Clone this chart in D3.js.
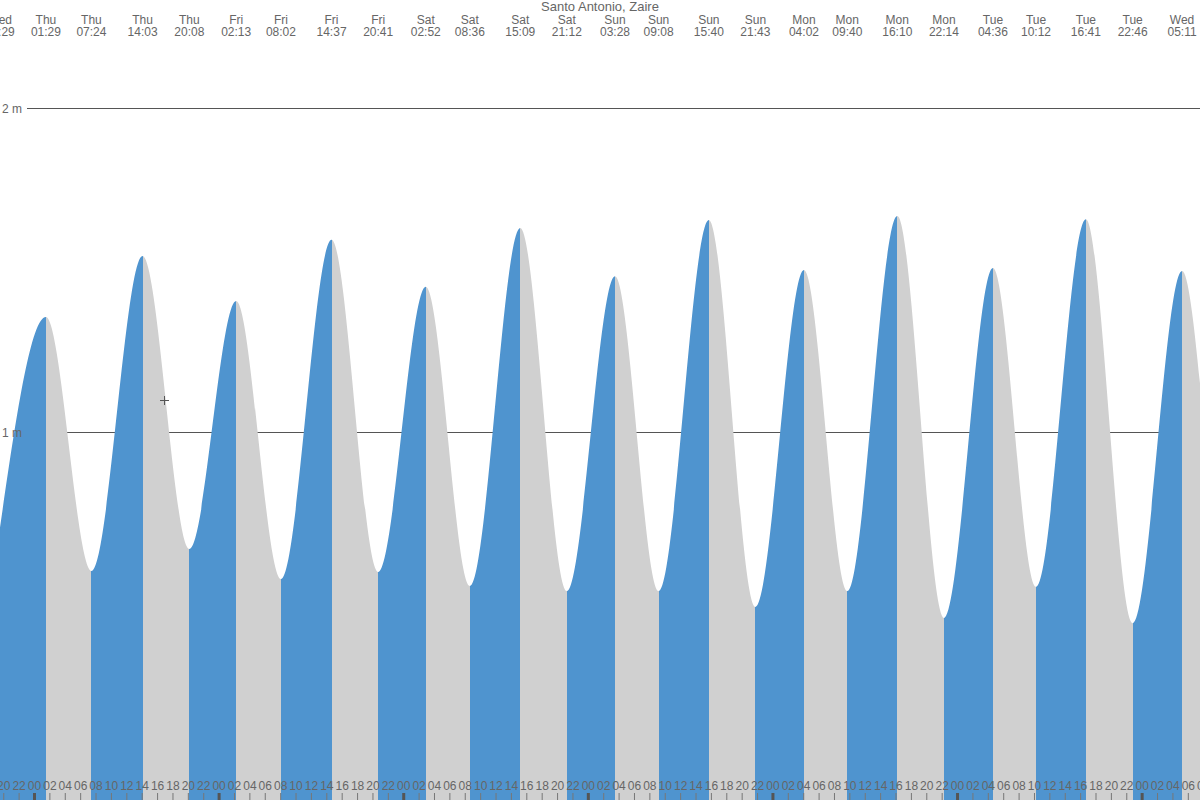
<!DOCTYPE html>
<html>
<head>
<meta charset="utf-8">
<script src="https://cdn.jsdelivr.net/npm/d3@7"></script>
<style>
  html, body { margin: 0; padding: 0; background: #fff; }
  svg { display: block; }
  text { font-family: "Liberation Sans", Arial, sans-serif; fill: #666; }
</style>
</head>
<body>
<svg id="chart" width="1200" height="800"></svg>
<script>
// ---- data ----
const title = "Santo Antonio, Zaire";
const extremeDays = ["Wed","Thu","Thu","Thu","Thu","Fri","Fri","Fri","Fri","Sat","Sat","Sat","Sat","Sun","Sun","Sun","Sun","Mon","Mon","Mon","Mon","Tue","Tue","Tue","Tue","Wed","Wed","Wed"];
const extremeTimes = ["19:29","01:29","07:24","14:03","20:08","02:13","08:02","14:37","20:41","02:52","08:36","15:09","21:12","03:28","09:08","15:40","21:43","04:02","09:40","16:10","22:14","04:36","10:12","16:41","22:46","05:11","11:00","17:15"];
const extremeLevels = [0.70,1.355,0.571,1.543,0.639,1.404,0.546,1.593,0.568,1.448,0.525,1.630,0.509,1.481,0.509,1.654,0.460,1.500,0.509,1.667,0.426,1.506,0.522,1.657,0.410,1.497,0.52,1.65];
const levelTicks = [1, 2];
const levelTickLabels = ["1 m", "2 m"];
const hourTicks = d3.range(-4, 153, 2); // hours since Thu 00:00

// ---- build extremes (hours since Thu 00:00) ----
let dayIdx = -1;
const extremes = extremeDays.map((d, i) => {
  if (i > 0 && d !== extremeDays[i - 1]) dayIdx++;
  const [hh, mm] = extremeTimes[i].split(":").map(Number);
  return { day: d, time: extremeTimes[i], h: dayIdx * 24 + hh + mm / 60, v: extremeLevels[i] };
});

const W = 1200, H = 800;
const svg = d3.select("#chart");
const x = d3.scaleLinear().domain([-4.485, 151.52]).range([0, W]);
const y = d3.scaleLinear().domain([0, 2]).range([756, 108]);

// reference lines (under areas)
svg.append("g").selectAll("line").data(levelTicks).join("line")
  .attr("x1", 27).attr("x2", W)
  .attr("y1", d => y(d) + 0.5).attr("y2", d => y(d) + 0.5)
  .attr("stroke", "#555").attr("stroke-width", 1);

// area clip
const area = d3.area().x(d => x(d.h)).y0(H).y1(d => y(d.v)).curve(d3.curveMonotoneX);
svg.append("clipPath").attr("id", "tideclip").append("path").attr("d", area(extremes));

const segs = d3.pairs(extremes);
svg.append("g").attr("clip-path", "url(#tideclip)")
  .selectAll("rect").data(segs).join("rect")
  .attr("x", d => x(d[0].h)).attr("width", d => x(d[1].h) - x(d[0].h))
  .attr("y", 0).attr("height", H)
  .attr("fill", d => d[1].v > d[0].v ? "#4f94cf" : "#d0d0d0")
  .attr("shape-rendering", "crispEdges");

// level labels
svg.append("g").selectAll("text").data(levelTicks).join("text")
  .attr("x", 22).attr("y", d => y(d) + 4.5)
  .attr("text-anchor", "end").attr("font-size", 12)
  .text((d, i) => levelTickLabels[i]);

// title
svg.append("text").attr("x", W / 2).attr("y", 11).attr("text-anchor", "middle")
  .attr("font-size", 13).text(title);

// extreme labels
const lab = svg.append("g").selectAll("g").data(extremes).join("g")
  .attr("transform", d => `translate(${x(d.h)},0)`);
lab.append("text").attr("y", 24).attr("text-anchor", "middle").attr("font-size", 12).text(d => d.day);
lab.append("text").attr("y", 36).attr("text-anchor", "middle").attr("font-size", 12).text(d => d.time);

// hour axis
const hourLabel = h => String(((h % 24) + 24) % 24).padStart(2, "0");
const ax = svg.append("g").selectAll("g").data(hourTicks).join("g")
  .attr("transform", d => `translate(${x(d)},0)`);
ax.append("text").attr("y", 790).attr("text-anchor", "middle").attr("font-size", 12).text(hourLabel);
ax.append("rect")
  .attr("x", d => (d % 24 === 0) ? -1.5 : -0.5)
  .attr("width", d => (d % 24 === 0) ? 3 : 1)
  .attr("y", 793).attr("height", 7)
  .attr("fill", d => (d % 24 === 0) ? "#555" : "#777");

// cursor mark
svg.append("path").attr("d", "M160,400.5H169M164.5,396V405").attr("stroke", "#555").attr("stroke-width", 1);
</script>
</body>
</html>
